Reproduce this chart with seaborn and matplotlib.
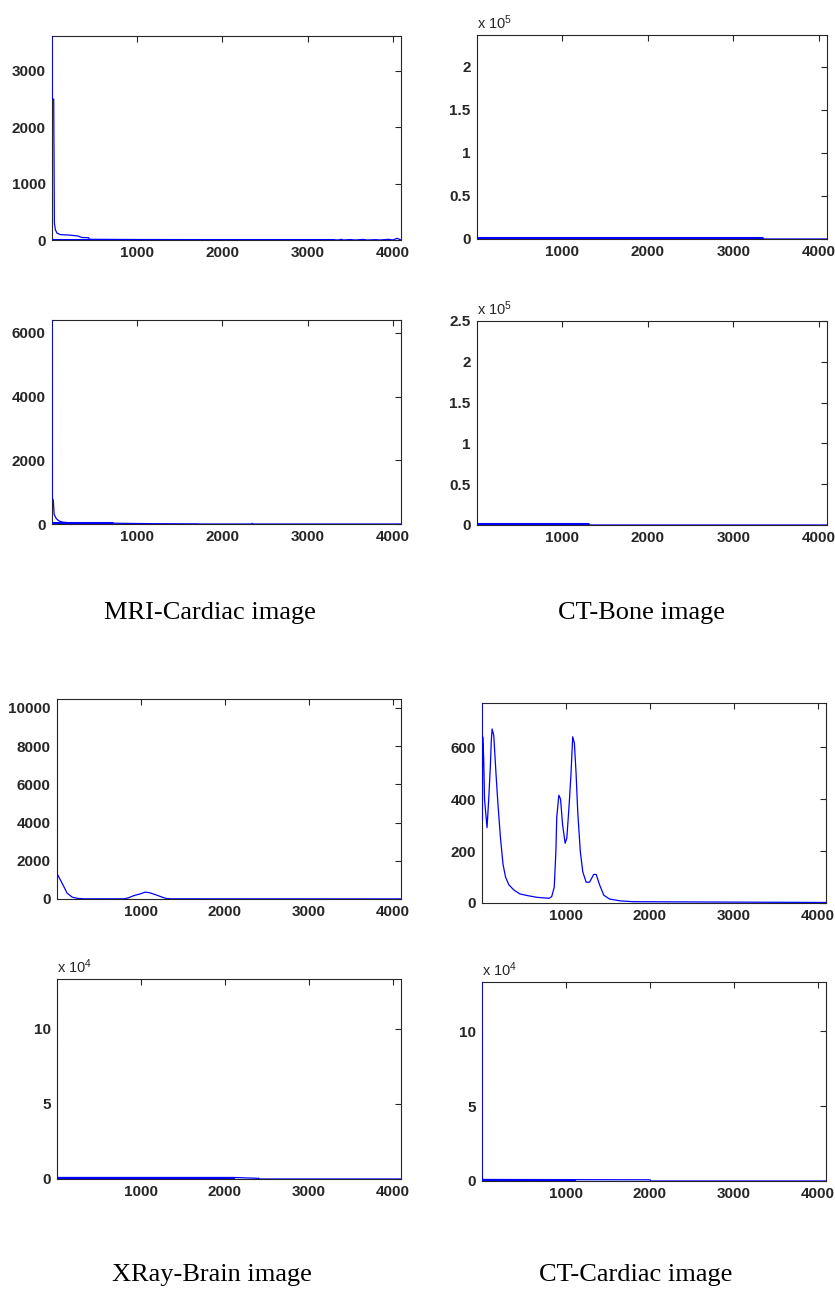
import matplotlib
matplotlib.use("Agg")
import matplotlib.pyplot as plt
from matplotlib.ticker import FuncFormatter
import seaborn as sns

# captions, one under each column of each block
captions = ["MRI-Cardiac image", "CT-Bone image", "XRay-Brain image", "CT-Cardiac image"]

x_ticks = [1000, 2000, 3000, 4000]

# MRI-Cardiac, first histogram
mri1_x = [0, 4, 20, 28, 40, 60, 100, 200, 300, 350, 430, 440, 1000, 2000, 3300,
          3350, 3400, 3420, 3500, 3560, 3650, 3700, 3800, 3850, 3950, 4000, 4050, 4095]
mri1_y = [3620, 2500, 2500, 300, 180, 120, 95, 88, 72, 45, 40, 12, 8, 6, 5,
          0, 12, 0, 8, 0, 10, 0, 6, 0, 12, 0, 30, 0]
mri1_band = ([0, 3300], [5, 5])

# CT-Bone, first histogram
bone1_x = [0, 2, 6, 3330, 3340, 4095]
bone1_y = [237000, 3000, 1500, 1500, 0, 0]
bone1_band = ([0, 3330], [1500, 1500])

# MRI-Cardiac, second histogram
mri2_x = [0, 4, 15, 25, 50, 80, 120, 200, 400, 700, 1000, 1200, 1700, 1750, 2340, 2350, 2360, 4095]
mri2_y = [6400, 800, 750, 300, 170, 100, 60, 40, 30, 25, 15, 10, 5, 0, 0, 20, 0, 0]
mri2_band = ([0, 700], [20, 20])

# CT-Bone, second histogram
bone2_x = [0, 2, 6, 1300, 1310, 4095]
bone2_y = [250000, 3000, 1500, 1500, 0, 0]
bone2_band = ([0, 1300], [1500, 1500])

# XRay-Brain, first histogram
xray1_x = [0, 4, 40, 80, 120, 180, 240, 320, 800, 850, 910, 1000, 1050, 1100,
           1170, 1250, 1300, 1350, 4095]
xray1_y = [10470, 1300, 1000, 660, 310, 100, 35, 10, 10, 60, 170, 280, 360, 330,
           230, 100, 30, 10, 5]

# CT-Cardiac, first histogram
ctc1_x = [0, 4, 8, 20, 30, 60, 80, 100, 110, 120, 140, 170, 190, 220, 250, 280,
          320, 380, 450, 550, 650, 800, 830, 860, 880, 890, 915, 935, 960, 990,
          1010, 1040, 1060, 1080, 1100, 1120, 1140, 1170, 1200, 1240, 1280, 1330,
          1360, 1400, 1450, 1520, 1650, 1800, 4095]
ctc1_y = [770, 320, 640, 560, 400, 290, 400, 530, 620, 670, 645, 480, 380, 250,
          150, 100, 70, 50, 35, 28, 22, 18, 25, 60, 200, 330, 415, 400, 300, 230,
          250, 390, 500, 640, 615, 500, 350, 200, 120, 80, 80, 110, 110, 70, 30,
          15, 8, 5, 2]

# XRay-Brain, second histogram
xray2_x = [0, 2, 6, 2100, 2380, 2390, 2400, 2410, 4095]
xray2_y = [133000, 3000, 1000, 1000, 500, 0, 600, 0, 0]
xray2_band = ([0, 2100], [800, 800])

# CT-Cardiac, second histogram
ctc2_x = [0, 2, 6, 2000, 2010, 4095]
ctc2_y = [132700, 4000, 1000, 800, 0, 0]
ctc2_band = ([0, 1100], [800, 800])

panels = [
    (mri1_x, mri1_y, mri1_band, [0, 1000, 2000, 3000], 0),
    (bone1_x, bone1_y, bone1_band, [0, 50000, 100000, 150000, 200000], 5),
    (mri2_x, mri2_y, mri2_band, [0, 2000, 4000, 6000], 0),
    (bone2_x, bone2_y, bone2_band, [0, 50000, 100000, 150000, 200000, 250000], 5),
    (xray1_x, xray1_y, None, [0, 2000, 4000, 6000, 8000, 10000], 0),
    (ctc1_x, ctc1_y, None, [0, 200, 400, 600], 0),
    (xray2_x, xray2_y, xray2_band, [0, 50000, 100000], 4),
    (ctc2_x, ctc2_y, ctc2_band, [0, 50000, 100000], 4),
]

W, H = 835, 1292
# axes boxes in pixels: left, top, right, bottom
boxes = [(52, 36, 401, 240), (477, 35, 827, 239),
         (52, 320, 401, 524), (477, 321, 827, 525),
         (57, 699, 401, 899), (482, 703, 826, 903),
         (57, 979, 401, 1179), (482, 982, 826, 1181)]
# caption centres and baselines in pixels
caption_pos = [(210, 619), (642, 619), (212, 1281), (636, 1281)]

BLUE = "#0000ff"
EDGE = "#262626"

sns.set_theme(style="white")
plt.rcParams["font.family"] = ["Liberation Sans", "DejaVu Sans"]
plt.rcParams["mathtext.default"] = "regular"

fig = plt.figure(figsize=(W / 100, H / 100), dpi=100)

for (xs, ys, band, yticks, power), (l, t, r, b) in zip(panels, boxes):
    ax = fig.add_axes([l / W, 1 - b / H, (r - l) / W, (b - t) / H])
    sns.lineplot(x=xs, y=ys, ax=ax, color=BLUE, lw=0.9, estimator=None, sort=False, zorder=3)
    if band is not None:
        sns.lineplot(x=band[0], y=band[1], ax=ax, color=BLUE, lw=2.2, estimator=None, sort=False, zorder=3)
    ax.set_xlim(0, 4096)
    ax.set_ylim(0, max(ys))
    ax.set_xticks(x_ticks)
    ax.set_yticks(yticks)
    if power:
        ax.yaxis.set_major_formatter(FuncFormatter(lambda v, p, k=power: f"{v / 10 ** k:g}"))
        ax.text(0.0, 1.015, f"x 10$^{{{power}}}$", transform=ax.transAxes,
                fontsize=10.5, color=EDGE, ha="left", va="bottom")
    ax.tick_params(direction="in", length=4, width=0.8, color=EDGE, top=True, right=True,
                   labelsize=11, labelcolor=EDGE, pad=4.5)
    for lab in ax.get_xticklabels() + ax.get_yticklabels():
        lab.set_fontweight("bold")
    for sp in ax.spines.values():
        sp.set_color(EDGE)
        sp.set_linewidth(0.8)
    ax.set_xlabel("")
    ax.set_ylabel("")

for text, (cx, cy) in zip(captions, caption_pos):
    fig.text(cx / W, 1 - cy / H, text, ha="center", va="baseline",
             fontsize=19, family="Liberation Serif", color="black")

fig.savefig("out.png", dpi=100)
